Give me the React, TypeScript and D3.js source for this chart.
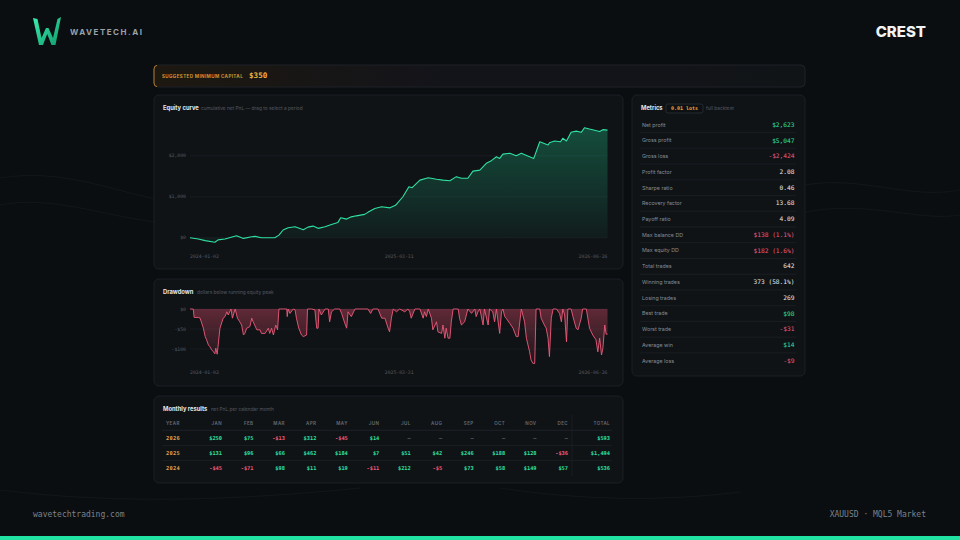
import React from 'react';
import * as d3 from 'd3';

// ---- data ----
const START_DATE = '2024-01-02';
const AXIS_DATES = ['2024-01-02', '2025-03-31', '2026-06-26'];

// [days since start, cumulative net PnL in $]
const equityCurve: [number, number][] = [
  [0, 0], [18, -30], [33, -70], [54, -110], [61, -50], [76, -30], [101, 50], [116, -15],
  [134, 25], [141, 35], [155, 0], [184, 0], [193, 65], [202, 190], [213, 245], [228, 270],
  [246, 195], [256, 260], [267, 285], [278, 230], [293, 270], [307, 325], [321, 375],
  [327, 490], [340, 455], [350, 510], [361, 535], [379, 570], [386, 620], [401, 715],
  [416, 755], [434, 730], [446, 790], [462, 1000], [475, 1245], [482, 1220], [499, 1405],
  [517, 1465], [535, 1425], [549, 1405], [564, 1390], [578, 1490], [589, 1450], [603, 1450],
  [614, 1625], [629, 1650], [643, 1815], [654, 1880], [665, 1975], [672, 1935], [679, 2040],
  [694, 2060], [708, 2000], [719, 2060], [733, 1995], [746, 1935], [759, 2340], [777, 2260],
  [780, 2315], [791, 2360], [804, 2340], [809, 2425], [817, 2360], [827, 2570], [838, 2600],
  [849, 2570], [856, 2683], [867, 2650], [878, 2620], [889, 2590], [896, 2635], [906, 2623],
];

// [days since start, $ below running peak]
const drawdownCurve: [number, number][] = [
  [0, 0], [7, 0], [9, -21], [18, -21], [22, -23], [29, -48], [33, -69], [36, -77], [40, -90],
  [43, -94], [47, -102], [51, -107], [54, -112], [56, -98], [59, -113], [65, -48], [72, -23],
  [76, -19], [80, -7], [83, -15], [89, 0], [92, -23], [98, 0], [103, -23], [108, -32],
  [112, -40], [116, -65], [119, -61], [123, -48], [130, -44], [134, -23], [137, -32],
  [145, -52], [152, -52], [155, -61], [163, -61], [170, -48], [173, -61], [177, -48],
  [181, -65], [186, -40], [190, -52], [193, 0], [210, 0], [211, -19], [213, 0], [217, -11],
  [224, 0], [228, -2], [231, -23], [236, -48], [242, -65], [246, -69], [253, -65], [255, 0],
  [264, 0], [271, -2], [275, -48], [278, -48], [280, 0], [285, -15], [293, 0], [300, 0],
  [303, -32], [307, -7], [314, 0], [325, 0], [329, -11], [336, -36], [340, -48], [343, -7],
  [350, -19], [358, 0], [386, 0], [392, -11], [397, 0], [408, 0], [416, -23], [423, -23],
  [430, -48], [433, -57], [437, -23], [441, 0], [448, -7], [455, 0], [466, -7], [473, 0],
  [477, -7], [480, -23], [488, 0], [499, 0], [506, -23], [509, -7], [513, -19], [517, 0],
  [524, -23], [527, -52], [535, -32], [538, -57], [546, -61], [549, -40], [553, -73],
  [556, -48], [560, -73], [564, -73], [567, -32], [571, 0], [582, 0], [585, -23], [589, -40],
  [596, -32], [603, 0], [611, -11], [618, 0], [621, -19], [625, -7], [629, 0], [636, -40],
  [639, 0], [647, -40], [650, 0], [657, -7], [661, -32], [665, 0], [672, -61], [676, -7],
  [679, 0], [683, -19], [686, -23], [694, -36], [701, -48], [708, -69], [712, -69], [719, 0],
  [726, -32], [730, -73], [737, -107], [740, -127], [744, -136], [748, -136], [751, 0],
  [759, 0], [762, -23], [769, -40], [773, -48], [777, -73], [780, -119], [784, -23], [788, 0],
  [795, 0], [802, -11], [806, -32], [809, 0], [813, -15], [817, -82], [820, 0], [827, 0],
  [831, -19], [838, -48], [842, -52], [849, -23], [852, 0], [860, 0], [867, -48], [874, -65],
  [881, -77], [885, -107], [889, -73], [893, -115], [896, -98], [900, -40], [903, -63],
  [906, -63],
];

const equityTicks = [0, 1000, 2000];
const drawdownTicks = [0, -50, -100];

const metricLabels = [
  'Net profit', 'Gross profit', 'Gross loss', 'Profit factor', 'Sharpe ratio',
  'Recovery factor', 'Payoff ratio', 'Max balance DD', 'Max equity DD', 'Total trades',
  'Winning trades', 'Losing trades', 'Best trade', 'Worst trade', 'Average win', 'Average loss',
];
const metricValues = [
  '$2,623', '$5,047', '-$2,424', '2.08', '0.46', '13.68', '4.09', '$138 (1.1%)',
  '$182 (1.6%)', '642', '373 (58.1%)', '269', '$98', '-$31', '$14', '-$9',
];
const metricTones = [
  'pos', 'pos', 'neg', 'plain', 'plain', 'plain', 'plain', 'neg',
  'neg', 'plain', 'plain', 'plain', 'pos', 'neg', 'pos', 'neg',
];

const months = ['JAN', 'FEB', 'MAR', 'APR', 'MAY', 'JUN', 'JUL', 'AUG', 'SEP', 'OCT', 'NOV', 'DEC'];
const years = ['2026', '2025', '2024'];
const monthly2026 = [250, 75, -13, 312, -45, 14, null, null, null, null, null, null];
const monthly2025 = [131, 96, 66, 462, 184, 7, 51, 42, 246, 188, 128, -36];
const monthly2024 = [-45, -71, 98, 11, 19, -11, 212, -5, 73, 58, 149, 57];
const yearTotals = [593, 1494, 536];

// ---- styling ----
const BG = '#0b0e11';
const PANEL = '#101316';
const PANEL_STROKE = '#1b1f24';
const GRID = '#1b1f24';
const MUTED = '#535a62';
const LABEL = '#868d95';
const TEXT = '#e6e8ea';
const GREEN = '#2fe0a0';
const RED = '#ef5a7b';
const ORANGE = '#eea53c';
const SANS = 'Inter, "Noto Sans", sans-serif';
const MONO = '"DejaVu Sans Mono", "Liberation Mono", monospace';

const parse = d3.utcParse('%Y-%m-%d');
const start = parse(START_DATE) as Date;
const dayToDate = (d: number) => d3.utcDay.offset(start, d);
const money = (v: number) => (v < 0 ? '-$' : '$') + d3.format(',')(Math.abs(v));

function Panel({ x, y, w, h, title, sub, subX }: any) {
  return (
    <g>
      <rect x={x} y={y} width={w} height={h} rx={5} fill={PANEL} stroke={PANEL_STROKE} strokeWidth={1} />
      <text x={x + 9} y={y + 15} fontFamily={SANS} fontWeight={700} fontSize={5.8} fill={TEXT}>{title}</text>
      <text x={subX} y={y + 15} fontFamily={SANS} fontSize={4.8} fill={MUTED}>{sub}</text>
    </g>
  );
}

export default function App() {
  const dateDomain = d3.extent(AXIS_DATES.map((s) => parse(s) as Date)) as [Date, Date];
  const x = d3.scaleUtc().domain(dateDomain).range([190, 607.5]);

  // equity chart
  const eqExtent = d3.extent(equityCurve, (d) => d[1]) as [number, number];
  const yEq = d3.scaleLinear().domain(eqExtent).range([242.3, 127.7]);
  const eqLine = d3.line<[number, number]>().x((d) => x(dayToDate(d[0]))).y((d) => yEq(d[1]));
  const eqArea = d3.area<[number, number]>()
    .x((d) => x(dayToDate(d[0]))).y0(yEq(0)).y1((d) => yEq(d[1]));

  // drawdown chart
  const ddMin = d3.min(drawdownCurve, (d) => d[1]) as number;
  const yDd = d3.scaleLinear().domain([ddMin, 0]).range([363.4, 309]);
  const ddLine = d3.line<[number, number]>().x((d) => x(dayToDate(d[0]))).y((d) => yDd(d[1]));
  const ddArea = d3.area<[number, number]>()
    .x((d) => x(dayToDate(d[0]))).y0(yDd(0)).y1((d) => yDd(d[1]));

  const dateLabels = AXIS_DATES.map((s, i) => ({
    s, px: x(parse(s) as Date), anchor: i === 0 ? 'start' : i === AXIS_DATES.length - 1 ? 'end' : 'middle',
  }));

  // metrics rows
  const yMetric = d3.scalePoint<string>().domain(metricLabels).range([124.7, 360.7]);
  const rowStep = yMetric.step();
  const toneColor = (t: string) => (t === 'pos' ? GREEN : t === 'neg' ? RED : TEXT);

  // monthly table
  const xMonth = d3.scalePoint<string>().domain(months).range([222, 568]);
  const yRow = d3.scalePoint<string>().domain(years).range([438, 468]);
  const monthlyRows = [monthly2026, monthly2025, monthly2024];

  return (
    <svg width={960} height={540} style={{ position: 'fixed', left: 0, top: 0 }}>
      <defs>
        <linearGradient id="eqFill" x1="0" y1="0" x2="0" y2="1">
          <stop offset="0%" stopColor="#1fc98e" stopOpacity={0.32} />
          <stop offset="100%" stopColor="#1fc98e" stopOpacity={0.04} />
        </linearGradient>
        <linearGradient id="ddFill" x1="0" y1="0" x2="0" y2="1">
          <stop offset="0%" stopColor="#d84a68" stopOpacity={0.4} />
          <stop offset="100%" stopColor="#d84a68" stopOpacity={0.05} />
        </linearGradient>
        <linearGradient id="capFill" x1="0" y1="0" x2="1" y2="0">
          <stop offset="0%" stopColor="#1d1810" />
          <stop offset="45%" stopColor="#13141a" />
          <stop offset="100%" stopColor="#111417" />
        </linearGradient>
        <linearGradient id="logoFill" x1="0" y1="0" x2="1" y2="1">
          <stop offset="0%" stopColor="#3cf0b0" />
          <stop offset="100%" stopColor="#0f9a6c" />
        </linearGradient>
      </defs>

      <rect width={960} height={540} fill={BG} />

      {/* faint background waves */}
      <g fill="none" stroke="#ffffff" strokeOpacity={0.035} strokeWidth={1}>
        <path d="M0,178 C60,168 110,190 160,200" />
        <path d="M0,205 C50,195 100,215 155,222" />
        <path d="M805,185 C860,175 910,200 960,190" />
        <path d="M805,212 C870,200 920,222 960,215" />
        <path d="M0,490 C120,505 240,500 360,488" />
        <path d="M500,488 C580,500 660,502 740,492" />
      </g>

      {/* header */}
      <path
        d="M33,18 L37.5,19 L41.5,38 L46,28 L48.5,28 L53,38 L57.5,19 L61,17 L55.5,45 L51.5,45 L47.2,34 L43,45 L39,45 Z"
        fill="url(#logoFill)"
      />
      <text x={70} y={34.5} fontFamily={SANS} fontWeight={700} fontSize={8} letterSpacing={1.5} fill="#9aa1a8">WAVETECH.AI</text>
      <text x={926} y={37} textAnchor="end" fontFamily={SANS} fontWeight={800} fontSize={15} fill="#f2f3f4">CREST</text>

      {/* suggested capital bar */}
      <rect x={154} y={65} width={651} height={22} rx={4} fill="url(#capFill)" stroke="#1e2126" />
      <path d="M157,65.5 Q154,65.5 154,69 L154,83 Q154,86.5 157,86.5" fill="none" stroke="#b37a2c" strokeWidth={1} />
      <text x={162} y={77.7} fontFamily={SANS} fontWeight={700} fontSize={4.6} letterSpacing={0.35} fill="#d4932e">SUGGESTED MINIMUM CAPITAL</text>
      <text x={249} y={78.3} fontFamily={MONO} fontWeight={700} fontSize={7.6} fill="#f3b23f">$350</text>

      {/* equity curve */}
      <Panel x={154} y={95} w={469} h={174} title="Equity curve" sub="cumulative net PnL — drag to select a period" subX={201} />
      {equityTicks.map((t) => (
        <g key={t}>
          <line x1={190} x2={607.5} y1={yEq(t)} y2={yEq(t)} stroke={GRID} strokeWidth={0.8} />
          <text x={186} y={yEq(t) + 1.7} textAnchor="end" fontFamily={MONO} fontSize={4.8} fill={MUTED}>{money(t)}</text>
        </g>
      ))}
      <path d={eqArea(equityCurve) as string} fill="url(#eqFill)" />
      <path d={eqLine(equityCurve) as string} fill="none" stroke={GREEN} strokeWidth={1.1} strokeLinejoin="round" />
      {dateLabels.map((d) => (
        <text key={d.s} x={d.px} y={257.5} textAnchor={d.anchor} fontFamily={MONO} fontSize={4.8} fill={MUTED}>{d.s}</text>
      ))}

      {/* drawdown */}
      <Panel x={154} y={279} w={469} h={107} title="Drawdown" sub="dollars below running equity peak" subX={197} />
      {drawdownTicks.map((t) => (
        <g key={t}>
          <line x1={190} x2={607.5} y1={yDd(t)} y2={yDd(t)} stroke={GRID} strokeWidth={0.8} />
          <text x={186} y={yDd(t) + 1.7} textAnchor="end" fontFamily={MONO} fontSize={4.8} fill={MUTED}>{money(t)}</text>
        </g>
      ))}
      <path d={ddArea(drawdownCurve) as string} fill="url(#ddFill)" />
      <path d={ddLine(drawdownCurve) as string} fill="none" stroke={RED} strokeWidth={0.9} strokeLinejoin="round" />
      {dateLabels.map((d) => (
        <text key={d.s} x={d.px} y={374.3} textAnchor={d.anchor} fontFamily={MONO} fontSize={4.8} fill={MUTED}>{d.s}</text>
      ))}

      {/* metrics */}
      <rect x={632} y={95} width={173} height={281} rx={5} fill={PANEL} stroke={PANEL_STROKE} />
      <text x={641} y={110.3} fontFamily={SANS} fontWeight={700} fontSize={5.8} fill={TEXT}>Metrics</text>
      <rect x={666} y={104} width={37} height={9} rx={2} fill="#0e1114" stroke="#2a3037" strokeWidth={0.8} />
      <text x={684.5} y={110.4} textAnchor="middle" fontFamily={MONO} fontWeight={700} fontSize={5} fill={ORANGE}>0.01 lots</text>
      <text x={706} y={110.3} fontFamily={SANS} fontSize={4.8} fill={MUTED}>full backtest</text>
      {metricLabels.map((m, i) => {
        const cy = yMetric(m) as number;
        return (
          <g key={m}>
            {i > 0 && <line x1={640} x2={796} y1={cy - rowStep / 2} y2={cy - rowStep / 2} stroke="#1c2126" strokeWidth={0.8} />}
            <text x={642} y={cy + 1.9} fontFamily={SANS} fontSize={5.3} fill={LABEL}>{m}</text>
            <text x={794.5} y={cy + 2.1} textAnchor="end" fontFamily={MONO} fontSize={6.2} fill={toneColor(metricTones[i])}>{metricValues[i]}</text>
          </g>
        );
      })}

      {/* monthly results */}
      <Panel x={154} y={396} w={469} h={87} title="Monthly results" sub="net PnL per calendar month" subX={211} />
      <text x={166} y={424.5} fontFamily={SANS} fontWeight={600} fontSize={4.5} letterSpacing={0.4} fill="#656c74">YEAR</text>
      {months.map((m) => (
        <text key={m} x={xMonth(m)} y={424.5} textAnchor="end" fontFamily={SANS} fontWeight={600} fontSize={4.5} letterSpacing={0.4} fill="#656c74">{m}</text>
      ))}
      <text x={610} y={424.5} textAnchor="end" fontFamily={SANS} fontWeight={600} fontSize={4.5} letterSpacing={0.4} fill="#656c74">TOTAL</text>
      <line x1={162} x2={612} y1={430.3} y2={430.3} stroke="#22272d" strokeWidth={0.8} />
      <line x1={572} x2={572} y1={415} y2={476} stroke="#1c2126" strokeWidth={0.8} />
      {years.map((yr, r) => {
        const cy = yRow(yr) as number;
        return (
          <g key={yr}>
            {r > 0 && <line x1={162} x2={612} y1={cy - 7.5} y2={cy - 7.5} stroke="#1c2126" strokeWidth={0.8} />}
            <text x={166} y={cy + 1.9} fontFamily={MONO} fontWeight={700} fontSize={5.3} letterSpacing={0.3} fill="#e3a24a">{yr}</text>
            {monthlyRows[r].map((v, i) => (
              <text key={i} x={xMonth(months[i])} y={cy + 1.9} textAnchor="end" fontFamily={MONO} fontWeight={700} fontSize={5.3}
                fill={v === null ? '#5a6169' : v < 0 ? RED : GREEN}>{v === null ? '—' : money(v)}</text>
            ))}
            <text x={610} y={cy + 1.9} textAnchor="end" fontFamily={MONO} fontWeight={700} fontSize={5.3} fill={GREEN}>{money(yearTotals[r])}</text>
          </g>
        );
      })}

      {/* footer */}
      <text x={33} y={517} fontFamily={MONO} fontSize={8} fill="#7c838a">wavetechtrading.com</text>
      <text x={926} y={517} textAnchor="end" fontFamily={MONO} fontSize={8} fill="#7c838a">XAUUSD · MQL5 Market</text>
      <rect x={0} y={536} width={960} height={4} fill="#22e2a2" />
    </svg>
  );
}
